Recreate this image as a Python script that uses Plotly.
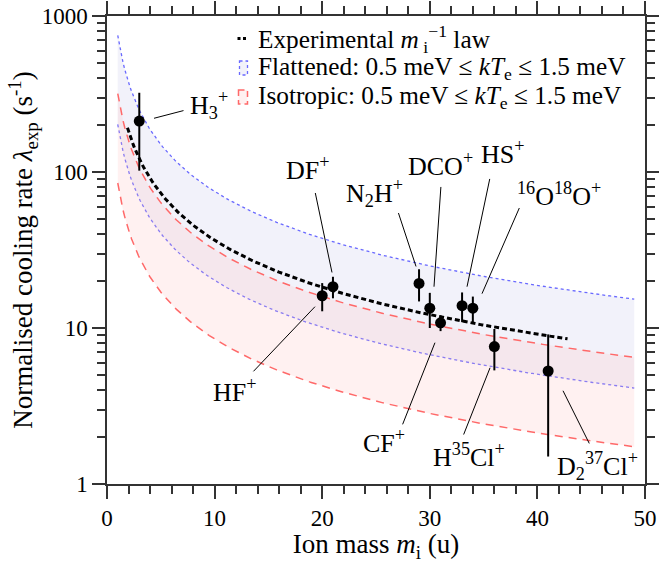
import numpy as np
import plotly.graph_objects as go

# ---------------- data ----------------
ion_labels = ["H<sub>3</sub><sup>+</sup>", "HF<sup>+</sup>", "DF<sup>+</sup>", "N<sub>2</sub>H<sup>+</sup>",
              "DCO<sup>+</sup>", "CF<sup>+</sup>", "HS<sup>+</sup>", "<sup>16</sup>O<sup>18</sup>O<sup>+</sup>",
              "H<sup>35</sup>Cl<sup>+</sup>", "D<sub>2</sub><sup>37</sup>Cl<sup>+</sup>"]
ion_mass = [3, 20, 21, 29, 30, 31, 33, 34, 36, 41]
cooling_rate = [212, 16.1, 18.4, 19.3, 13.4, 10.8, 13.9, 13.4, 7.6, 5.3]
rate_err = [110, 3.3, 2.9, 4.5, 3.4, 1.25, 3.0, 2.5, 2.25, 3.8]

# m^-1 law coefficients (s^-1 u)
exp_coef = 365.0
exp_mass_range = (1.9, 42.8)
flat_hi, flat_lo = 750.0, 202.0
iso_hi, iso_lo = 318.0, 85.0
model_mass_range = (1.0, 49.0)

legend_names = ["Experimental <i>m</i><sub> i</sub><sup>−1</sup> law",
                "Flattened: 0.5 meV ≤ <i>kT</i><sub>e</sub> ≤ 1.5 meV",
                "Isotropic: 0.5 meV ≤ <i>kT</i><sub>e</sub> ≤ 1.5 meV"]

# label placement (mass, rate) and leader line ends (near point, near label)
label_pos = [(9.49, 268), (11.94, 3.97), (18.7, 106), (24.9, 73.6), (30.95, 112.4),
             (25.74, 1.87), (36.8, 133), (42.0, 71.5), (33.64, 1.52), (45.54, 1.31)]
line_point_end = [(4.37, 221), (19.33, 13.7), (20.91, 22.7), (28.72, 24.8), (30.39, 18.4),
                  (30.48, 8.05), (33.46, 18.4), (34.85, 16.6), (35.6, 5.56), (42.38, 3.96)]
line_label_end = [(7.25, 249), (13.48, 5.16), (19.33, 75), (27.04, 55.8), (31.04, 82),
                  (27.42, 2.36), (35.6, 92.3), (38.38, 60.1), (33.09, 2.03), (44.89, 1.78)]

FONT = "Liberation Serif"
W, H = 659, 563
ML, MR, MT, MB = 107, 14, 16, 79
PW, PH = W - ML - MR, H - MT - MB


def paper_x(px):
    return (px - ML) / PW


def paper_y(py):
    return (H - MB - py) / PH


m_model = np.linspace(*model_mass_range, 300)
m_exp = np.linspace(*exp_mass_range, 300)

fig = go.Figure()
blue = "rgb(105,105,255)"
red = "rgb(255,105,105)"
lav_fill = "rgba(200,200,235,0.24)"
pink_fill = "rgba(255,190,190,0.22)"

fig.add_trace(go.Scatter(x=m_model, y=flat_hi / m_model, mode="lines",
                         line=dict(color=blue, width=1.3, dash="dot"),
                         showlegend=False, hoverinfo="skip"))
fig.add_trace(go.Scatter(x=m_model, y=flat_lo / m_model, mode="lines", fill="tonexty",
                         fillcolor=lav_fill, line=dict(color=blue, width=1.3, dash="dot"),
                         name=legend_names[1], showlegend=False))
fig.add_trace(go.Scatter(x=m_model, y=iso_hi / m_model, mode="lines",
                         line=dict(color=red, width=1.5, dash="8px,6px"),
                         showlegend=False, hoverinfo="skip"))
fig.add_trace(go.Scatter(x=m_model, y=iso_lo / m_model, mode="lines", fill="tonexty",
                         fillcolor=pink_fill, line=dict(color=red, width=1.5, dash="8px,6px"),
                         name=legend_names[2], showlegend=False))
fig.add_trace(go.Scatter(x=m_exp, y=exp_coef / m_exp, mode="lines",
                         line=dict(color="black", width=3, dash="5px,3px"),
                         name=legend_names[0], showlegend=False))
fig.add_trace(go.Scatter(x=ion_mass, y=cooling_rate, mode="markers",
                         marker=dict(color="black", size=11),
                         error_y=dict(type="data", array=rate_err, color="black", thickness=2, width=0),
                         showlegend=False))

annotations = []
for txt, (lx, ly) in zip(ion_labels, label_pos):
    annotations.append(dict(x=lx, y=np.log10(ly), xref="x", yref="y", text=txt, showarrow=False,
                            xanchor="center", yanchor="middle",
                            font=dict(family=FONT, size=26, color="black")))
for (px, py), (qx, qy) in zip(line_point_end, line_label_end):
    annotations.append(dict(x=px, y=np.log10(py), ax=qx, ay=np.log10(qy), xref="x", yref="y",
                            axref="x", ayref="y", text="", showarrow=True, arrowhead=0,
                            arrowwidth=1, arrowcolor="black", standoff=0, startstandoff=0))

# hand-made legend (text + symbols)
legend_rows_py = [38.5, 68, 97]
for name, py in zip(legend_names, legend_rows_py):
    annotations.append(dict(x=paper_x(256), y=paper_y(py), xref="paper", yref="paper", text=name,
                            showarrow=False, xanchor="left", yanchor="middle",
                            font=dict(family=FONT, size=25.3, color="black")))
shapes = [
    dict(type="line", xref="paper", yref="paper", x0=paper_x(237.5), x1=paper_x(246),
         y0=paper_y(legend_rows_py[0]), y1=paper_y(legend_rows_py[0]),
         line=dict(color="black", width=3, dash="3px,2.5px")),
    dict(type="rect", xref="paper", yref="paper", x0=paper_x(239.5), x1=paper_x(247.5),
         y0=paper_y(legend_rows_py[1] - 7), y1=paper_y(legend_rows_py[1] + 7),
         line=dict(color=blue, width=1.3, dash="dot"), fillcolor=lav_fill),
    dict(type="rect", xref="paper", yref="paper", x0=paper_x(238.5), x1=paper_x(247.5),
         y0=paper_y(legend_rows_py[2] - 7), y1=paper_y(legend_rows_py[2] + 7),
         line=dict(color=red, width=1.5, dash="6px,4px"), fillcolor=pink_fill),
]

axis_common = dict(showline=True, linecolor="#333", linewidth=1.5, mirror="ticks",
                   ticks="outside", ticklen=13, tickwidth=1.5, tickcolor="#333",
                   showgrid=False, zeroline=False, automargin=False,
                   tickfont=dict(family=FONT, size=23, color="black"))

y_minor = [k * 10 ** d for d in range(0, 3) for k in range(2, 10)]

fig.update_layout(
    width=W, height=H,
    margin=dict(l=ML, r=MR, t=MT, b=MB, autoexpand=False),
    plot_bgcolor="white", paper_bgcolor="white",
    font=dict(family=FONT, size=23, color="black"),
    xaxis=dict(range=[0, 50], tickvals=[0, 10, 20, 30, 40, 50],
               minor=dict(ticks="outside", ticklen=8, tickwidth=1.5, tickcolor="#333", dtick=2),
               title=dict(text="Ion mass <i>m</i><sub>i</sub> (u)", font=dict(family=FONT, size=27), standoff=0),
               **axis_common),
    yaxis=dict(type="log", range=[0, 3], tickvals=[1, 10, 100, 1000], ticktext=["1", "10", "100", "1000"],
               minor=dict(ticks="outside", ticklen=8, tickwidth=1.5, tickcolor="#333", tickvals=y_minor),
               title=dict(text="Normalised cooling rate <i>λ</i><sub>exp</sub> (s<sup>-1</sup>)",
                          font=dict(family=FONT, size=27), standoff=1),
               **axis_common),
    annotations=annotations,
    shapes=shapes,
    showlegend=False,
)

fig.write_html("out.html")
